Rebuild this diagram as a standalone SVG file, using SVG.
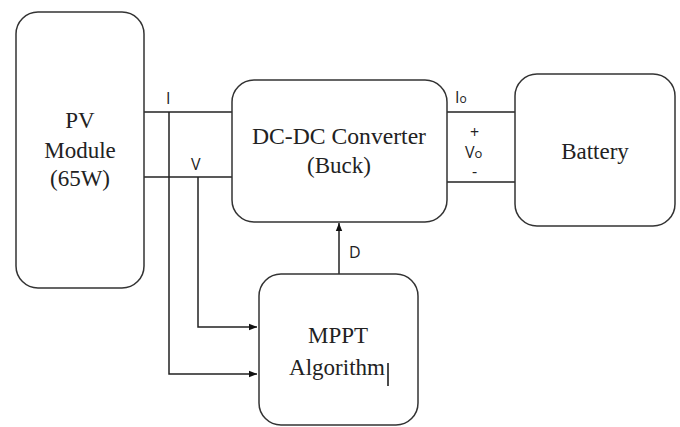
<svg xmlns="http://www.w3.org/2000/svg" width="680" height="427" viewBox="0 0 680 427">
<defs>
<style>
.box{fill:#fff;stroke:#333;stroke-width:1.5}
.serif{font-family:"Liberation Serif","DejaVu Serif",serif;font-size:23px;fill:#222;text-anchor:middle}
.sans{font-family:"Open Sans","Liberation Sans",sans-serif;font-size:16px;fill:#222}
.wire{fill:none;stroke:#222;stroke-width:1.5}
</style>
<marker id="ah" viewBox="0 0 10 10" refX="10" refY="5" markerWidth="8" markerHeight="8" markerUnits="userSpaceOnUse" orient="auto">
<path d="M0,1 L10,5 L0,9 Z" fill="#111"/>
</marker>
</defs>
<rect width="680" height="427" fill="#fff"/>
<g id="connectors">
<path class="wire" d="M144,112 H232"/>
<path class="wire" d="M144,177 H232"/>
<path class="wire" d="M169,112 V374 H257" marker-end="url(#ah)"/>
<path class="wire" d="M198,177 V327 H257" marker-end="url(#ah)"/>
<path class="wire" d="M339,274 V223" marker-end="url(#ah)"/>
<path class="wire" d="M447,112 H515"/>
<path class="wire" d="M447,182 H515"/>
<text class="sans" x="166" y="104">I</text>
<text class="sans" x="191" y="170">V</text>
<text class="sans" x="349" y="258">D</text>
<text class="sans" x="455" y="103">I<tspan font-size="12">o</tspan></text>
<text class="sans" x="470" y="138">+</text>
<text class="sans" x="465" y="158">V<tspan font-size="13">o</tspan></text>
<text class="sans" x="472" y="177">-</text>
</g>
<g id="pv">
<rect class="box" x="16" y="12" width="128" height="276" rx="22"/>
<text class="serif" x="80" y="128">PV</text>
<text class="serif" x="80" y="158">Module</text>
<text class="serif" x="80" y="186">(65W)</text>
</g>
<g id="converter">
<rect class="box" x="232" y="80" width="215" height="142" rx="22"/>
<text class="serif" x="339" y="144" textLength="174" lengthAdjust="spacingAndGlyphs">DC-DC Converter</text>
<text class="serif" x="339" y="173">(Buck)</text>
</g>
<g id="battery">
<rect class="box" x="515" y="74" width="160" height="152" rx="22"/>
<text class="serif" x="595" y="159">Battery</text>
</g>
<g id="mppt">
<rect class="box" x="259" y="274" width="159" height="151" rx="22"/>
<text class="serif" x="338" y="343">MPPT</text>
<text class="serif" x="337" y="375">Algorithm</text>
<path d="M388,363 V386" stroke="#111" stroke-width="1.5"/>
</g>
</svg>
